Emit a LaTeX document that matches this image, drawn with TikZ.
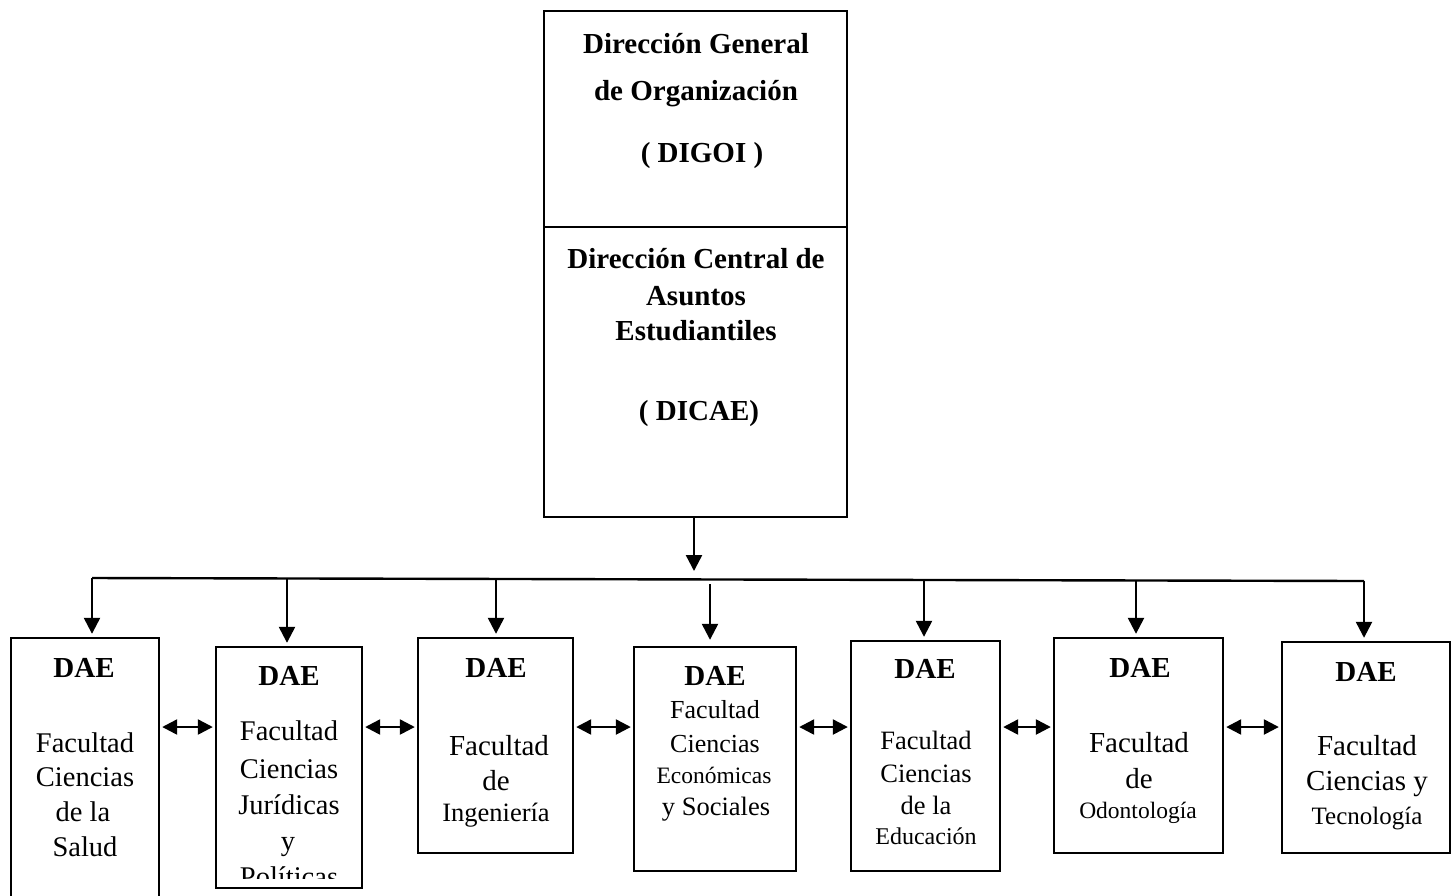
\documentclass[tikz,border=0pt]{standalone}
\usepackage{fontspec}
\setmainfont{Liberation Serif}
\usetikzlibrary{arrows.meta,calc}
\begin{document}
\begin{tikzpicture}[x=1pt,y=-1pt,
  box/.style={draw, line width=2.4pt, inner sep=0pt, rectangle},
  arr/.style={line width=2.4pt, -{Triangle[length=16pt,width=16pt]}},
  darr/.style={line width=2.4pt, {Triangle[length=15pt,width=15pt]}-{Triangle[length=15pt,width=15pt]}},
  hd/.style={font=\fontsize{29}{34}\selectfont\bfseries, anchor=base, inner sep=0pt},
  tx/.style={font=\fontsize{#1}{#1}\selectfont, anchor=base, inner sep=0pt},
  tx/.default=28.5
]
\useasboundingbox (0,0) rectangle (1455,895);

% top boxes
\node[box, minimum width=303pt, minimum height=216pt] (digoi) at (695.5,119) {};
\node[box, minimum width=303pt, minimum height=290pt] (dicae) at (695.5,372) {};

\node[hd] (g1) at (696,53) {Dirección General};
\node[hd] (g2) at (696,100) {de Organización};
\node[hd] (g3) at (702,162) {( DIGOI )};
\node[hd] (c1) at (696,268) {Dirección Central de};
\node[hd] (c2) at (696,305) {Asuntos};
\node[hd] (c3) at (696,340) {Estudiantiles};
\node[hd] (c4) at (699,420) {( DICAE)};

% faculty boxes
\node[box, minimum width=148pt, minimum height=282pt] (b1) at (85,779) {};
\node[box, minimum width=146pt, minimum height=241pt] (b2) at (289,767.5) {};
\node[box, minimum width=155pt, minimum height=215pt] (b3) at (495.5,745.5) {};
\node[box, minimum width=162pt, minimum height=224pt] (b4) at (715,759) {};
\node[box, minimum width=149pt, minimum height=230pt] (b5) at (925.5,756) {};
\node[box, minimum width=169pt, minimum height=215pt] (b6) at (1138.5,745.5) {};
\node[box, minimum width=168pt, minimum height=211pt] (b7) at (1366,747.5) {};

% bus and arrows
\coordinate (top) at (694,517);
\coordinate (toptip) at (694,571);
\coordinate (a1) at (92,578);
\coordinate (a2) at (287,578.5);
\coordinate (a3) at (496,579);
\coordinate (a4) at (710,584);
\coordinate (a5) at (924,580);
\coordinate (a6) at (1136,580.5);
\coordinate (a7) at (1364,581);

\draw[arr] (top) -- (toptip);
\draw[line width=2.4pt] (a1) -- (a7);
\draw[arr, shorten >=3pt] (a1) -- (a1 |- b1.north);
\draw[arr, shorten >=3pt] (a2) -- (a2 |- b2.north);
\draw[arr, shorten >=3pt] (a3) -- (a3 |- b3.north);
\draw[arr, shorten >=6pt] (a4) -- (a4 |- b4.north);
\draw[arr, shorten >=3pt] (a5) -- (a5 |- b5.north);
\draw[arr, shorten >=3pt] (a6) -- (a6 |- b6.north);
\draw[arr, shorten >=3pt] (a7) -- (a7 |- b7.north);

\coordinate (h) at (0,727);
\draw[darr, shorten <=2pt, shorten >=2pt] (b1.east |- h) -- (b2.west |- h);
\draw[darr, shorten <=2pt, shorten >=2pt] (b2.east |- h) -- (b3.west |- h);
\draw[darr, shorten <=2pt, shorten >=2pt] (b3.east |- h) -- (b4.west |- h);
\draw[darr, shorten <=2pt, shorten >=2pt] (b4.east |- h) -- (b5.west |- h);
\draw[darr, shorten <=2pt, shorten >=2pt] (b5.east |- h) -- (b6.west |- h);
\draw[darr, shorten <=2pt, shorten >=2pt] (b6.east |- h) -- (b7.west |- h);

% box 1
\node[hd] (t1a) at (84,677) {DAE};
\node[tx] (t1b) at (85,752) {Facultad};
\node[tx] (t1c) at (85,786) {Ciencias};
\node[tx] (t1d) at (83,821) {de la};
\node[tx] (t1e) at (85,856) {Salud};

% box 2
\node[hd] (t2a) at (289,685) {DAE};
\node[tx] (t2b) at (289,740) {Facultad};
\node[tx] (t2c) at (289,778) {Ciencias};
\node[tx] (t2d) at (289,814) {Jurídicas};
\node[tx] (t2e) at (288,850) {y};
\begin{scope}
  \clip (216,860) rectangle (362,878);
  \node[tx] (t2f) at (289,886) {Políticas};
\end{scope}

% box 3
\node[hd] (t3a) at (496,677) {DAE};
\node[tx=29] (t3b) at (499,755) {Facultad};
\node[tx=29] (t3c) at (496,790) {de};
\node[tx=26.5] (t3d) at (496,821) {Ingeniería};

% box 4
\node[hd] (t4a) at (715,685) {DAE};
\node[tx=26] (t4b) at (715,718) {Facultad};
\node[tx=26] (t4c) at (715,752) {Ciencias};
\node[tx=23.5] (t4d) at (714,783) {Económicas};
\node[tx=26.5] (t4e) at (716,815) {y Sociales};

% box 5
\node[hd] (t5a) at (925,678) {DAE};
\node[tx=26.5] (t5b) at (926,749) {Facultad};
\node[tx=26.5] (t5c) at (926,782) {Ciencias};
\node[tx=26.5] (t5d) at (926,814) {de la};
\node[tx=24] (t5e) at (926,844) {Educación};

% box 6
\node[hd] (t6a) at (1140,677) {DAE};
\node[tx=29] (t6b) at (1139,752) {Facultad};
\node[tx=29] (t6c) at (1139,788) {de};
\node[tx=23.5] (t6d) at (1138,818) {Odontología};

% box 7
\node[hd] (t7a) at (1366,681) {DAE};
\node[tx=29] (t7b) at (1367,755) {Facultad};
\node[tx=29] (t7c) at (1367,790) {Ciencias y};
\node[tx=25] (t7d) at (1367,824) {Tecnología};
\end{tikzpicture}
\end{document}
